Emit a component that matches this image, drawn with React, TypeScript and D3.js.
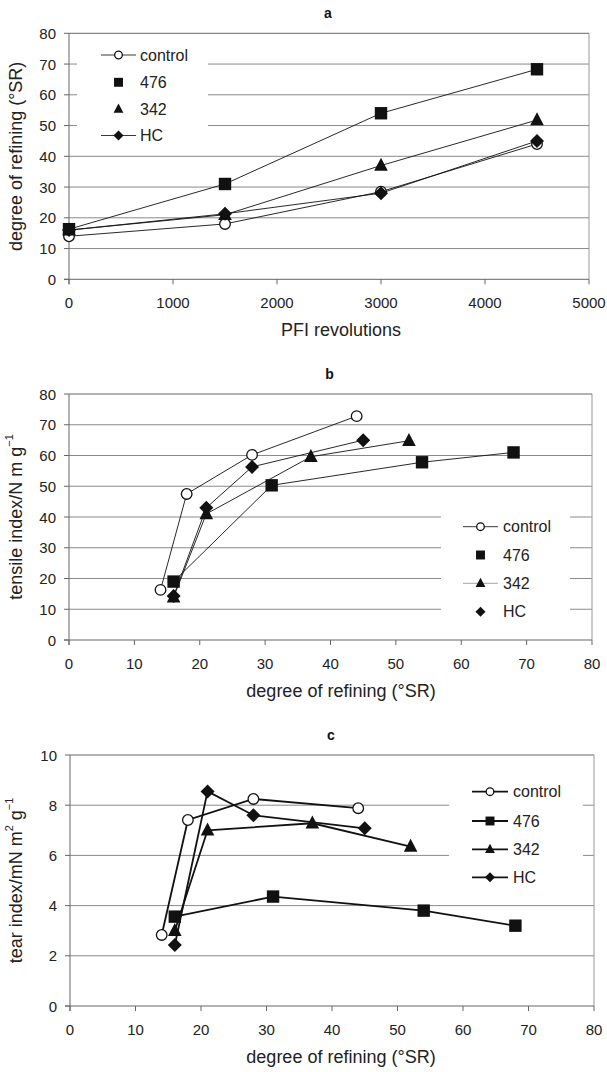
import React from "react";
import * as d3 from "d3";

// ---------- data ----------
const SERIES = ["control", "476", "342", "HC"];
const PFI_REVS = [0, 1500, 3000, 4500];

// panel a: degree of refining (°SR) vs PFI revolutions
const A_CONTROL = [14, 18, 28.5, 44];
const A_476 = [16.3, 31, 54, 68.3];
const A_342 = [16, 21, 37, 51.8];
const A_HC = [16, 21.3, 28, 45];

// degree of refining (x for panels b, c)
const SR_CONTROL = [14, 18, 28, 44];
const SR_476 = [16, 31, 54, 68];
const SR_342 = [16, 21, 37, 52];
const SR_HC = [16, 21, 28, 45];

// panel b: tensile index
const T_CONTROL = [16.3, 47.5, 60.2, 72.8];
const T_476 = [19, 50.3, 57.8, 61];
const T_342 = [13.9, 41, 59.6, 64.8];
const T_HC = [14.3, 43, 56.3, 65];

// panel c: tear index
const TEAR_CONTROL = [2.83, 7.41, 8.25, 7.88];
const TEAR_476 = [3.56, 4.36, 3.8, 3.2];
const TEAR_342 = [3.0, 7.0, 7.28, 6.35];
const TEAR_HC = [2.43, 8.55, 7.6, 7.08];

const TICKS_PFI = [0, 1000, 2000, 3000, 4000, 5000];
const TICKS_0_80 = [0, 10, 20, 30, 40, 50, 60, 70, 80];
const TICKS_0_10 = [0, 2, 4, 6, 8, 10];

const FONT = "'Liberation Sans', Arial, Helvetica, sans-serif";
const MARKERS = ["circle", "square", "triangle", "diamond"];

function Marker({ type, x, y, s = 1 }: { type: string; x: number; y: number; s?: number }) {
  if (type === "circle") {
    return <circle cx={x} cy={y} r={5.3 * s} fill="#fff" stroke="#111" strokeWidth={1.3} />;
  }
  if (type === "square") {
    const h = 6.2 * s;
    return <rect x={x - h} y={y - h} width={2 * h} height={2 * h} fill="#111" />;
  }
  if (type === "triangle") {
    const w = 6.8 * s, h = 13 * s;
    return <path d={`M${x},${y - h * 0.6}L${x + w},${y + h * 0.4}L${x - w},${y + h * 0.4}Z`} fill="#111" />;
  }
  const r = 7 * s;
  return <path d={`M${x},${y - r}L${x + r},${y}L${x},${y + r}L${x - r},${y}Z`} fill="#111" />;
}

type PanelProps = {
  title: string;
  left: number; right: number; top: number; bottom: number;
  xDomain: [number, number]; yDomain: [number, number];
  xTicks: number[]; yTicks: number[];
  xs: number[][]; ys: number[][];
  lineWidth: number;
  xTitle: React.ReactNode; yTitle: React.ReactNode;
  legend: { x0: number; x1: number; y0: number; y1: number; lineX0: number; lineX1: number; textX: number; ys: number[]; lines: (string | null)[]; lineW: number; ms: number };
};

function Panel(p: PanelProps) {
  const x = d3.scaleLinear().domain(p.xDomain).range([p.left, p.right]);
  const y = d3.scaleLinear().domain(p.yDomain).range([p.bottom, p.top]);
  const line = d3.line<[number, number]>().x(d => x(d[0])).y(d => y(d[1]));
  const midX = 341;
  const midY = (p.top + p.bottom) / 2;
  const lg = p.legend;
  return (
    <g>
      <text x={(p.left + p.right) / 2 - 1} y={p.top - 20} textAnchor="middle" dominantBaseline="central" fontWeight="bold" fontSize={14} fill="#111">{p.title}</text>
      {p.yTicks.slice(1, -1).map(t => (
        <line key={"g" + t} x1={p.left} x2={p.right} y1={y(t)} y2={y(t)} stroke="#8a8a8a" strokeWidth={1} />
      ))}
      <line x1={p.left} x2={p.right} y1={p.top} y2={p.top} stroke="#666" strokeWidth={1} />
      <line x1={p.right} x2={p.right} y1={p.top} y2={p.bottom} stroke="#999" strokeWidth={1} />
      <line x1={p.left} x2={p.left} y1={p.top} y2={p.bottom + 5} stroke="#666" strokeWidth={1} />
      <line x1={p.left - 5} x2={p.right} y1={p.bottom} y2={p.bottom} stroke="#666" strokeWidth={1} />
      {p.yTicks.map(t => (
        <g key={"y" + t}>
          <line x1={p.left - 5} x2={p.left} y1={y(t)} y2={y(t)} stroke="#666" />
          <text x={p.left - 13} y={y(t)} textAnchor="end" dominantBaseline="central" fontSize={15} fill="#222">{t}</text>
        </g>
      ))}
      {p.xTicks.map(t => (
        <g key={"x" + t}>
          <line x1={x(t)} x2={x(t)} y1={p.bottom} y2={p.bottom + 5} stroke="#666" />
          <text x={x(t)} y={p.bottom + 23.5} textAnchor="middle" dominantBaseline="central" fontSize={15} fill="#222">{t}</text>
        </g>
      ))}
      <text x={midX} y={p.bottom + 51} textAnchor="middle" dominantBaseline="central" fontSize={18} fill="#222">{p.xTitle}</text>
      <text transform={`translate(16,${midY}) rotate(-90)`} textAnchor="middle" dominantBaseline="central" fontSize={18} fill="#222">{p.yTitle}</text>
      <rect x={lg.x0} y={lg.y0} width={lg.x1 - lg.x0} height={lg.y1 - lg.y0} fill="#fff" />
      {p.xs.map((xv, i) => (
        <path key={"l" + i} d={line(xv.map((v, j) => [v, p.ys[i][j]]) as [number, number][]) || ""} fill="none" stroke="#111" strokeWidth={p.lineWidth} />
      ))}
      {p.xs.map((xv, i) => (
        <g key={"m" + i}>
          {xv.map((v, j) => <Marker key={j} type={MARKERS[i]} x={x(v)} y={y(p.ys[i][j])} />)}
        </g>
      ))}
      {SERIES.map((name, i) => (
        <g key={"lg" + i}>
          {lg.lines[i] && <line x1={lg.lineX0} x2={lg.lineX1} y1={lg.ys[i]} y2={lg.ys[i]} stroke={lg.lines[i] as string} strokeWidth={lg.lineW} />}
          <Marker type={MARKERS[i]} x={(lg.lineX0 + lg.lineX1) / 2} y={lg.ys[i]} s={lg.ms} />
          <text x={lg.textX} y={lg.ys[i]} dominantBaseline="central" fontSize={16} fill="#222">{name}</text>
        </g>
      ))}
    </g>
  );
}

export default function App() {
  const pfi = [PFI_REVS, PFI_REVS, PFI_REVS, PFI_REVS];
  const sr = [SR_CONTROL, SR_476, SR_342, SR_HC];
  return (
    <svg width={607} height={1072} style={{ position: "absolute", left: 0, top: 0, background: "#fff" }} fontFamily={FONT}>
      <rect x={0} y={0} width={607} height={1072} fill="#fff" />
      <Panel
        title="a" left={69} right={589} top={33.3} bottom={279.3}
        xDomain={[0, 5000]} yDomain={[0, 80]} xTicks={TICKS_PFI} yTicks={TICKS_0_80}
        xs={pfi} ys={[A_CONTROL, A_476, A_342, A_HC]} lineWidth={0.9}
        xTitle="PFI revolutions" yTitle="degree of refining (°SR)"
        legend={{ x0: 77, x1: 208, y0: 40, y1: 148, lineX0: 101, lineX1: 136, textX: 140, ys: [55, 82.3, 109, 135.5], lines: ["#222", null, null, "#222"], lineW: 0.9, ms: 0.72 }}
      />
      <Panel
        title="b" left={69} right={592} top={394} bottom={640}
        xDomain={[0, 80]} yDomain={[0, 80]} xTicks={TICKS_0_80} yTicks={TICKS_0_80}
        xs={sr} ys={[T_CONTROL, T_476, T_342, T_HC]} lineWidth={0.9}
        xTitle="degree of refining (°SR)"
        yTitle={<>tensile index/N m g<tspan fontSize={11} dy={-7}>−1</tspan></>}
        legend={{ x0: 441, x1: 570, y0: 500, y1: 625, lineX0: 463, lineX1: 498, textX: 503, ys: [526.7, 555, 583.3, 611.7], lines: ["#222", null, "#999", null], lineW: 0.9, ms: 0.72 }}
      />
      <Panel
        title="c" left={70} right={594} top={755} bottom={1006}
        xDomain={[0, 80]} yDomain={[0, 10]} xTicks={TICKS_0_80} yTicks={TICKS_0_10}
        xs={sr} ys={[TEAR_CONTROL, TEAR_476, TEAR_342, TEAR_HC]} lineWidth={1.8}
        xTitle="degree of refining (°SR)"
        yTitle={<>tear index/mN m<tspan fontSize={11} dy={-7}>2</tspan><tspan dy={7}> g</tspan><tspan fontSize={11} dy={-7}>−1</tspan></>}
        legend={{ x0: 449, x1: 583, y0: 776, y1: 893, lineX0: 472, lineX1: 508, textX: 513, ys: [791.7, 821, 849.3, 877.3], lines: ["#111", "#111", "#111", "#111"], lineW: 1.8, ms: 0.72 }}
      />
    </svg>
  );
}
